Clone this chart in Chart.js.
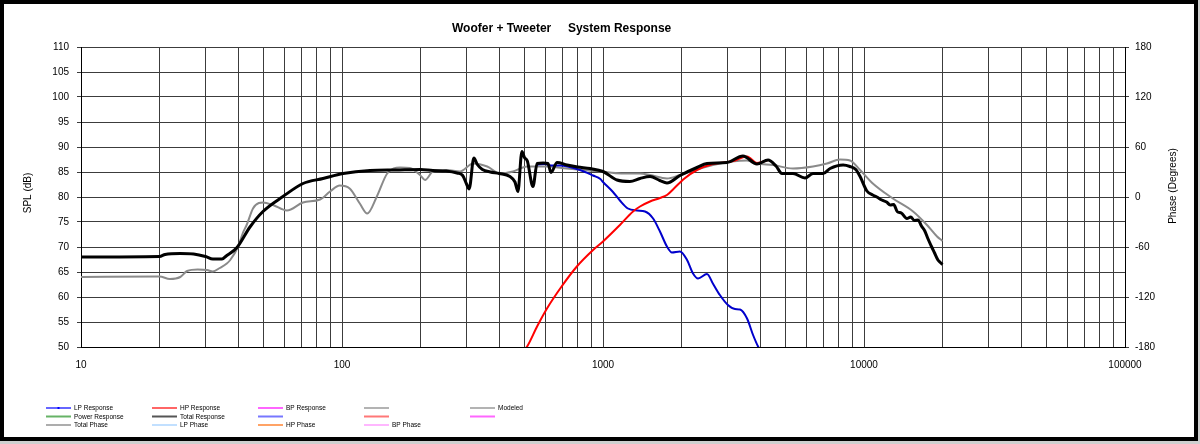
<!DOCTYPE html>
<html><head><meta charset="utf-8">
<script src="https://cdn.jsdelivr.net/npm/chart.js@4.4.1/dist/chart.umd.min.js"></script>
<style>html,body{margin:0;padding:0;background:#fff;}canvas{display:block}</style>
</head><body>
<canvas id="c" width="1200" height="444"></canvas>
<script>
// ---------- text ----------
const chartTitle = 'Woofer + Tweeter     System Response';
const leftAxisTitle = 'SPL (dB)';
const rightAxisTitle = 'Phase (Degrees)';

// ---------- axes ----------
const freqDecades = [10, 100, 1000, 10000];
const freqMultipliers = [1, 2, 3, 4, 5, 6, 7, 8, 9];
const freqTickLabels = [10, 100, 1000, 10000, 100000];
const splMin = 50, splMax = 110, splStep = 5;
const phaseMin = -180, phaseMax = 180, phaseStep = 60;

// ---------- data (Hz / dB) ----------
const totalFreq = [10, 20, 21, 24, 27, 30, 32, 34.7, 36, 39.6, 44.4, 49.8, 59.4, 70.9, 84.6, 101, 128, 160, 200, 223, 250, 276, 290, 300, 307, 320, 330, 345, 370, 400, 440, 460, 472, 489, 500, 513, 539, 559, 590, 615, 632, 667, 728, 800, 892, 1000, 1132, 1268, 1386, 1514, 1650, 1758, 1972, 2291, 2503, 2985, 3437, 3890, 4288, 4600, 4851, 5345, 5941, 6377, 6968, 7413, 8318, 8836, 9300, 9660, 10260, 10800, 11200, 11700, 12200, 12600, 13000, 13400, 13900, 14600, 15100, 15600, 16100, 16600, 17100, 17600, 18100, 18600, 19200, 19600, 20000];
const totalSpl = [68.0, 68.1, 68.5, 68.7, 68.6, 68.1, 67.6, 67.6, 68.2, 69.9, 74.0, 77.1, 80.1, 82.7, 83.7, 84.7, 85.3, 85.4, 85.5, 85.3, 85.2, 84.8, 84.3, 82.6, 81.6, 87.8, 86.5, 85.5, 85.0, 84.7, 84.1, 83.0, 81.1, 89.1, 87.9, 87.2, 82.1, 86.7, 86.8, 86.7, 84.9, 86.9, 86.4, 86.0, 85.7, 85.1, 83.4, 83.1, 83.7, 84.1, 83.3, 82.8, 84.3, 85.9, 86.7, 86.9, 88.2, 86.6, 87.4, 86.2, 84.7, 84.7, 83.8, 84.7, 84.7, 85.7, 86.4, 86.1, 85.5, 84.1, 81.2, 80.4, 80.0, 79.4, 79.0, 78.4, 78.5, 77.1, 76.8, 75.7, 76.0, 75.3, 75.4, 74.2, 73.2, 71.6, 70.2, 68.9, 67.4, 66.9, 66.5];

const modeledFreq = [10, 20, 21.9, 24, 25.5, 28, 30.4, 32, 34, 36.2, 37.3, 40, 41.7, 43.2, 45.6, 48, 49.8, 54.4, 61.5, 70.9, 82.4, 90, 98, 107, 117, 125, 136, 149, 167, 182, 199, 208, 223, 252, 283, 318, 360, 403, 452, 512, 610, 728, 977, 1175, 1386, 1514, 1758, 1972, 2636, 3564, 3890, 4477, 5345, 6377, 7213, 8093, 8836, 9660, 10810, 12900, 15420, 17430, 19050, 20000];
const modeledSpl = [64.0, 64.1, 63.6, 64.0, 65.2, 65.5, 65.4, 65.1, 65.8, 66.7, 67.4, 70.1, 72.8, 74.5, 77.7, 78.8, 78.9, 78.4, 77.3, 78.9, 79.5, 81.1, 82.3, 81.7, 78.7, 76.7, 80.1, 84.7, 85.9, 85.8, 84.4, 83.4, 85.1, 85.4, 85.1, 86.7, 86.1, 84.7, 85.1, 86.1, 86.1, 85.7, 85.1, 84.7, 84.7, 84.4, 83.7, 84.4, 86.4, 87.3, 86.7, 86.4, 85.7, 86.1, 86.7, 87.5, 87.3, 85.4, 82.7, 79.7, 77.1, 74.4, 72.1, 71.2];

const lpFreq = [559, 600, 632, 684, 816, 916, 977, 1000, 1092, 1161, 1246, 1350, 1449, 1556, 1653, 1758, 1837, 1972, 2099, 2213, 2313, 2503, 2636, 2804, 3011, 3204, 3350, 3564, 3758, 3928, 4050];
const lpSpl = [86.5, 86.6, 86.3, 86.3, 85.4, 84.3, 83.6, 83.0, 81.0, 79.3, 77.7, 77.3, 77.1, 75.7, 73.1, 70.1, 68.9, 69.1, 67.4, 64.7, 63.7, 64.6, 62.7, 60.4, 58.4, 57.6, 57.5, 55.7, 52.4, 50.1, 49.0];

const hpFreq = [500, 512, 559, 610, 694, 794, 916, 1000, 1161, 1303, 1386, 1514, 1653, 1758, 1870, 2052, 2291, 2636, 3159, 3564, 3890, 4288];
const hpSpl = [49.5, 50.1, 54.1, 57.7, 62.1, 66.1, 69.4, 71.1, 74.4, 77.1, 78.1, 79.1, 79.8, 80.4, 81.7, 83.7, 85.4, 86.6, 87.2, 88.1, 86.8, 87.4];

// ---------- legend (as in the reference, 3 rows x 5 columns) ----------
const legendLabels = [
  ['LP Response', 'HP Response', 'BP Response', '', 'Modeled'],
  ['Power Response', 'Total Response', '', '', ''],
  ['Total Phase', 'LP Phase', 'HP Phase', 'BP Phase', null]
];
const legendColors = [
  ['#0000ff', '#ff0000', '#ff00ff', '#808080', '#808080'],
  ['#66b366', '#555555', '#7777ff', '#ff7777', '#ff66ff'],
  ['#777777', '#99ccff', '#ff6600', '#ff88ff', null]
];

function toPoints(fs, vs) { return fs.map((f, i) => ({x: f, y: vs[i]})); }

const freqGrid = [];
freqDecades.forEach(d => freqMultipliers.forEach(m => freqGrid.push(d * m)));
freqGrid.push(100000);

const FONT = '"Liberation Sans", Arial, sans-serif';
Chart.defaults.font.family = FONT;
Chart.defaults.color = '#000';

const decor = {
  id: 'decor',
  beforeDraw(chart) {
    const ctx = chart.ctx;
    ctx.save();
    ctx.fillStyle = '#fff';
    ctx.fillRect(0, 0, chart.width, chart.height);
    ctx.restore();
  },
  afterDraw(chart) {
    const ctx = chart.ctx;
    const area = chart.chartArea;
    ctx.save();
    // title
    ctx.fillStyle = '#000';
    ctx.font = 'bold 12px ' + FONT;
    ctx.textAlign = 'left';
    ctx.textBaseline = 'alphabetic';
    ctx.fillText(chartTitle, 452, 32);
    // axis titles
    ctx.font = '10px ' + FONT;
    ctx.textAlign = 'center';
    ctx.textBaseline = 'middle';
    ctx.save(); ctx.translate(28, 193); ctx.rotate(-Math.PI / 2); ctx.fillText(leftAxisTitle, 0, 0); ctx.restore();
    ctx.save(); ctx.translate(1173, 186); ctx.rotate(-Math.PI / 2); ctx.fillText(rightAxisTitle, 0, 0); ctx.restore();
    // legend
    const colX = [46, 152, 258, 364, 470];
    const rowY = [408, 416.5, 425];
    ctx.font = '6.5px ' + FONT;
    ctx.textAlign = 'left';
    ctx.textBaseline = 'middle';
    legendLabels.forEach((row, r) => row.forEach((lab, c) => {
      if (lab === null) return;
      const x = colX[c], y = rowY[r];
      ctx.strokeStyle = legendColors[r][c];
      ctx.lineWidth = (r === 1) ? 2 : 1.2;
      ctx.beginPath(); ctx.moveTo(x, y); ctx.lineTo(x + 25, y); ctx.stroke();
      if (r === 0 && c === 0) { ctx.fillStyle = legendColors[r][c]; ctx.fillRect(x + 11.5, y - 1, 2, 2); }
      if (lab) { ctx.fillStyle = '#000'; ctx.fillText(lab, x + 28, y + 0.5); }
    }));
    // outer frame
    ctx.fillStyle = '#cfcfcf';
    ctx.fillRect(1198, 0, 2, 444);
    ctx.fillRect(0, 441, 1200, 3);
    ctx.strokeStyle = '#000';
    ctx.lineWidth = 4;
    ctx.strokeRect(2, 2, 1194, 437);
    ctx.restore();
  }
};

const gridColor = '#3c3c3c';

new Chart(document.getElementById('c'), {
  type: 'line',
  data: {
    datasets: [
      {label: 'Total Response', data: toPoints(totalFreq, totalSpl), borderColor: '#000', borderWidth: 3, yAxisID: 'y'},
      {label: 'HP Response', data: toPoints(hpFreq, hpSpl), borderColor: '#ff0000', borderWidth: 2, yAxisID: 'y'},
      {label: 'LP Response', data: toPoints(lpFreq, lpSpl), borderColor: '#0000cc', borderWidth: 2, yAxisID: 'y'},
      {label: 'Modeled', data: toPoints(modeledFreq, modeledSpl), borderColor: '#8a8a8a', borderWidth: 2, yAxisID: 'y'}
    ]
  },
  options: {
    responsive: false,
    animation: false,
    devicePixelRatio: 1,
    layout: {padding: {top: 47, left: 0, right: 0, bottom: 67}},
    elements: {point: {radius: 0}, line: {cubicInterpolationMode: 'monotone', fill: false}},
    datasets: {line: {clip: 0}},
    plugins: {legend: {display: false}, title: {display: false}, tooltip: {enabled: false}},
    scales: {
      x: {
        type: 'logarithmic', min: 10, max: 100000,
        afterBuildTicks: s => { s.ticks = freqGrid.map(v => ({value: v})); },
        afterFit: s => { s.height = 30; },
        grid: {color: gridColor, lineWidth: 1, drawTicks: false},
        border: {display: true, color: '#000'},
        ticks: {
          autoSkip: false, maxRotation: 0, padding: 12,
          font: {size: 10}, color: '#000',
          callback: v => freqTickLabels.includes(v) ? String(v) : ''
        }
      },
      y: {
        position: 'left', min: splMin, max: splMax,
        afterFit: s => { s.width = 81; },
        grid: {color: gridColor, lineWidth: 1, tickLength: 4},
        border: {display: true, color: '#000'},
        ticks: {stepSize: splStep, padding: 8, font: {size: 10}, color: '#000'}
      },
      y2: {
        position: 'right', min: phaseMin, max: phaseMax,
        afterFit: s => { s.width = 75; },
        grid: {drawOnChartArea: false, color: gridColor, tickLength: 4},
        border: {display: true, color: '#000'},
        ticks: {stepSize: phaseStep, padding: 6, font: {size: 10}, color: '#000'}
      }
    }
  },
  plugins: [decor]
});
</script>
</body></html>
